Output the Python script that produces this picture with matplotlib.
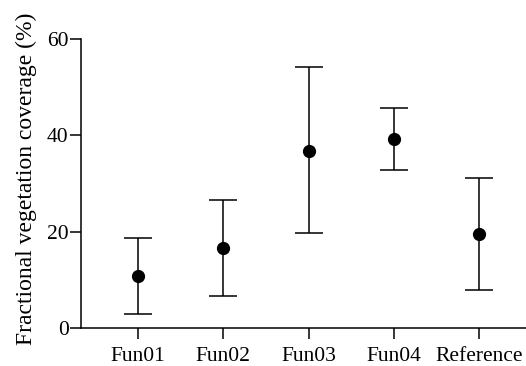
import matplotlib
matplotlib.use("Agg")
import matplotlib.pyplot as plt
import numpy as np

categories = ["Fun01", "Fun02", "Fun03", "Fun04", "Reference"]
means = [10.7, 16.5, 36.8, 39.3, 19.5]
upper = [18.6, 26.6, 54.1, 45.7, 31.2]
lower = [2.8, 6.7, 19.6, 32.8, 7.9]
yticks = [0, 20, 40, 60]

plt.rcParams['font.family'] = ['Liberation Serif', 'DejaVu Serif']

fig = plt.figure(figsize=(5.26, 3.66), dpi=100)
ax = fig.add_axes([0.154, 0.104, 0.846, 0.790])

x = np.arange(len(categories))
m = np.array(means)
yerr = np.vstack([m - np.array(lower), np.array(upper) - m])
ax.errorbar(x, m, yerr=yerr, fmt='o', color='black', ecolor='black',
            markersize=8.5, elinewidth=1.1, capsize=10, capthick=1.1)

ax.set_xlim(-0.67, 4.55)
ax.set_ylim(0, 60)
ax.set_yticks(yticks)
ax.set_xticks(x)
ax.set_xticklabels(categories)
ax.spines['top'].set_visible(False)
ax.spines['right'].set_visible(False)
for s in ['left', 'bottom']:
    ax.spines[s].set_linewidth(1.1)
ax.tick_params(axis='both', labelsize=15.5, width=1.1, length=8, direction='out')
ax.tick_params(axis='x', pad=6)
ax.tick_params(axis='y', pad=1)
ax.set_ylabel("Fractional vegetation coverage (%)", fontsize=17, labelpad=7)
ax.yaxis.label.set_y(0.517)

fig.savefig("out.png", dpi=100)
